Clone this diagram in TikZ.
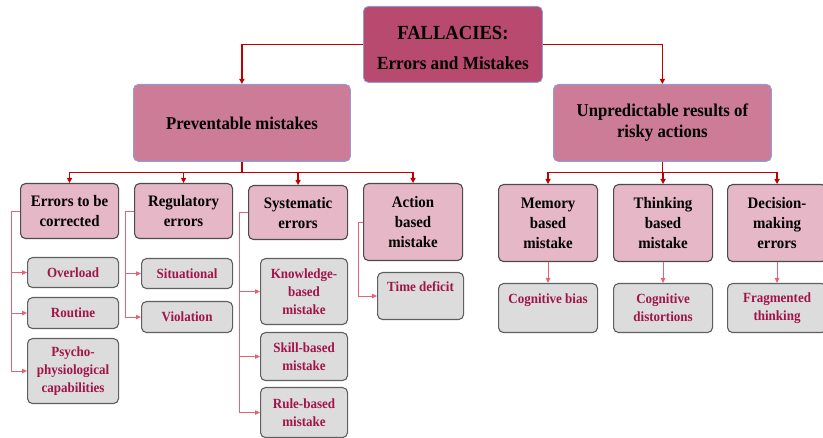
\documentclass[tikz,border=0pt]{standalone}
\usepackage{fontspec}
\setmainfont{Liberation Serif}[FakeStretch=0.93]
\usetikzlibrary{arrows.meta}

\definecolor{topfill}{RGB}{184,74,112}
\definecolor{onefill}{RGB}{204,124,150}
\definecolor{twofill}{RGB}{230,183,198}
\definecolor{leaffill}{RGB}{220,220,220}
\definecolor{blueedge}{RGB}{140,160,215}
\definecolor{darkedge}{RGB}{75,75,75}
\definecolor{leafedge}{RGB}{95,95,95}
\definecolor{leaftext}{RGB}{160,20,72}
\definecolor{mainred}{RGB}{192,0,0}
\definecolor{subred}{RGB}{228,100,115}

\tikzset{
  base/.style={rounded corners=5pt, inner sep=0pt, align=center, anchor=north west, font=\bfseries},
  headbox/.style={base, fill=topfill, draw=blueedge, line width=0.8pt,
    font=\bfseries\fontsize{20}{30}\selectfont},
  groupbox/.style={base, fill=onefill, draw=blueedge, line width=0.8pt,
    font=\bfseries\fontsize{18}{21}\selectfont},
  kindbox/.style={base, fill=twofill, draw=darkedge, line width=1.1pt,
    font=\bfseries\fontsize{16}{20}\selectfont},
  leafbox/.style={base, fill=leaffill, draw=leafedge, line width=1.1pt, text=leaftext,
    font=\bfseries\fontsize{14}{18}\selectfont},
  mainline/.style={draw=mainred, line width=1.4pt, -{Triangle[length=5pt,width=5pt]}},
  subline/.style={draw=subred, line width=1pt, -{Triangle[length=5pt,width=4.5pt]}},
}

\begin{document}
\begin{tikzpicture}[x=1pt,y=-1pt]
\useasboundingbox (0,0) rectangle (823,438);

% head
\node[headbox, minimum width=179pt, minimum height=76pt] (head) at (363,6)
  {\rule{0pt}{20pt}FALLACIES:\\{\fontsize{18.5}{30}\selectfont Errors and Mistakes}};

% two groups
\node[groupbox, minimum width=217pt, minimum height=77pt] (prev) at (133,84) {Preventable mistakes};
\node[groupbox, minimum width=218pt, minimum height=77pt] (unp) at (553,84) {Unpredictable results of\\risky actions};

% kinds of preventable mistakes
\node[kindbox, minimum width=98pt, minimum height=55pt] (e1) at (20,183) {Errors to be\\corrected};
\node[kindbox, minimum width=98pt, minimum height=55pt] (e2) at (134,183) {Regulatory\\errors};
\node[kindbox, minimum width=99pt, minimum height=54pt] (e3) at (248,185) {Systematic\\errors};
\node[kindbox, minimum width=99pt, minimum height=77pt] (e4) at (363,183) {Action\\based\\mistake};

% kinds of unpredictable results
\node[kindbox, minimum width=99pt, minimum height=77pt] (m1) at (498,184) {Memory\\based\\mistake};
\node[kindbox, minimum width=99pt, minimum height=77pt] (m2) at (613,184) {Thinking\\based\\mistake};
\node[kindbox, minimum width=99pt, minimum height=77pt] (m3) at (727,184) {Decision-\\making\\errors};

% leaves
\node[leafbox, minimum width=91pt, minimum height=30pt] (o1) at (27,257) {Overload};
\node[leafbox, minimum width=91pt, minimum height=31pt] (o2) at (27,297) {Routine};
\node[leafbox, minimum width=91pt, minimum height=65pt] (o3) at (27,338) {Psycho-\\physiological\\capabilities};

\node[leafbox, minimum width=91pt, minimum height=30pt] (s1) at (141,258) {Situational};
\node[leafbox, minimum width=91pt, minimum height=31pt] (s2) at (141,301) {Violation};

\node[leafbox, minimum width=87pt, minimum height=66pt] (k1) at (260,258) {Knowledge-\\based\\mistake};
\node[leafbox, minimum width=87pt, minimum height=48pt] (k2) at (260,332) {Skill-based\\mistake};
\node[leafbox, minimum width=87pt, minimum height=50pt] (k3) at (260,387) {Rule-based\\mistake};

\node[leafbox, minimum width=86pt, minimum height=47pt] (t1) at (377,272) {Time deficit\\\mbox{}};

\node[leafbox, minimum width=99pt, minimum height=49pt] (b1) at (498,283) {Cognitive bias\\\mbox{}};
\node[leafbox, minimum width=99pt, minimum height=49pt] (b2) at (613,283) {Cognitive\\distortions};
\node[leafbox, minimum width=99pt, minimum height=49pt] (b3) at (727,283) {Fragmented\\thinking};

% main connectors
\draw[mainline] (head.west) -| (prev.north);
\draw[mainline] (head.east) -| (unp.north);
\foreach \c in {e1,e2,e3,e4}
  \draw[mainline] (prev.south) -- ++(0,11) -| (\c.north);
\foreach \c in {m1,m2,m3}
  \draw[mainline] (unp.south) -- ++(0,11) -| (\c.north);

% sub connectors
\foreach \c in {o1,o2,o3}
  \draw[subline] (e1.west) -- ++(-9,0) |- (\c.west);
\foreach \c in {s1,s2}
  \draw[subline] (e2.west) -- ++(-9,0) |- (\c.west);
\foreach \c in {k1,k2,k3}
  \draw[subline] (e3.west) -- ++(-9,0) |- (\c.west);
\draw[subline] (e4.west) -- ++(-5,0) |- (t1.west);
\draw[subline] (m1.south) -- (b1.north);
\draw[subline] (m2.south) -- (b2.north);
\draw[subline] (m3.south) -- (b3.north);
\end{tikzpicture}
\end{document}
